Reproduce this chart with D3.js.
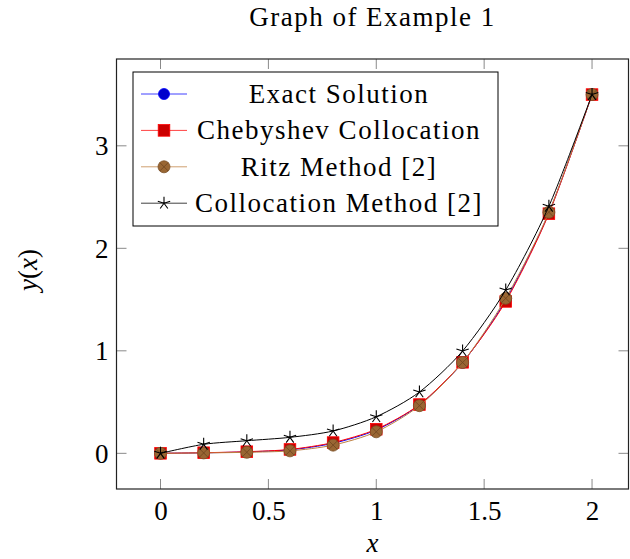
<!DOCTYPE html>
<html>
<head>
<meta charset="utf-8">
<script src="https://cdn.jsdelivr.net/npm/d3@7"></script>
<style>
  body { margin: 0; background: #fff; }
  text { font-family: "Liberation Serif", "Times New Roman", serif; fill: #000; }
</style>
</head>
<body>
<div id="chart-area"></div>
<script>
// data
const xs = [0, 0.2, 0.4, 0.6, 0.8, 1.0, 1.2, 1.4, 1.6, 1.8, 2.0]
const exact = [0, 0.005, 0.014, 0.034, 0.098, 0.228, 0.472, 0.885, 1.495, 2.345, 3.5]
const cheby = [0, 0.006, 0.016, 0.038, 0.105, 0.235, 0.476, 0.888, 1.482, 2.338, 3.5]
const ritz = [0, 0.004, 0.010, 0.024, 0.080, 0.210, 0.465, 0.886, 1.512, 2.352, 3.5]
const colloc = [0, 0.088, 0.123, 0.156, 0.218, 0.357, 0.598, 0.998, 1.593, 2.41, 3.5]
const seriesNames = ["Exact Solution", "Chebyshev Collocation", "Ritz Method [2]", "Collocation Method [2]"]
const xTicks = [0, 0.5, 1, 1.5, 2]
const yTicks = [0, 1, 2, 3]

const W = 630, H = 559
const PLOT = { LEFT: 116.5, RIGHT: 628.5, TOP: 59, BOTTOM: 489 }

const svg = d3.select("#chart-area").append("svg")
  .attr("width", W)
  .attr("height", H)

const x = d3.scaleLinear()
  .domain([-0.204, 2.169])
  .range([PLOT.LEFT, PLOT.RIGHT])

const y = d3.scaleLinear()
  .domain([-0.348, 3.847])
  .range([PLOT.BOTTOM, PLOT.TOP])

// title
svg.append("text")
  .attr("x", (PLOT.LEFT + PLOT.RIGHT) / 2)
  .attr("y", 26)
  .attr("text-anchor", "middle")
  .attr("font-size", "27px")
  .attr("letter-spacing", "1.5px")
  .text("Graph of Example 1")

// ticks (inner, mirrored on all sides)
const TICK = 10
const ticks = svg.append("g").attr("stroke", "#8a8a8a").attr("stroke-width", 1)
xTicks.forEach(t => {
  ticks.append("line").attr("x1", x(t)).attr("x2", x(t)).attr("y1", PLOT.BOTTOM).attr("y2", PLOT.BOTTOM - TICK)
  ticks.append("line").attr("x1", x(t)).attr("x2", x(t)).attr("y1", PLOT.TOP).attr("y2", PLOT.TOP + TICK)
})
yTicks.forEach(t => {
  ticks.append("line").attr("x1", PLOT.LEFT).attr("x2", PLOT.LEFT + TICK).attr("y1", y(t)).attr("y2", y(t))
  ticks.append("line").attr("x1", PLOT.RIGHT).attr("x2", PLOT.RIGHT - TICK).attr("y1", y(t)).attr("y2", y(t))
})

// tick labels through d3 axes (lines hidden, labels kept)
const xAxis = svg.append("g")
  .attr("transform", `translate(0, ${PLOT.BOTTOM})`)
  .call(d3.axisBottom(x).tickValues(xTicks).tickSize(0).tickPadding(0).tickFormat(d3.format("")))
xAxis.select(".domain").remove()
xAxis.selectAll("text")
  .attr("y", 31)
  .attr("dy", null)
  .attr("font-size", "27px")
  .attr("font-family", "Liberation Serif, serif")
  .attr("fill", "#000")

const yAxis = svg.append("g")
  .attr("transform", `translate(${PLOT.LEFT}, 0)`)
  .call(d3.axisLeft(y).tickValues(yTicks).tickSize(0).tickPadding(0).tickFormat(d3.format("")))
yAxis.select(".domain").remove()
yAxis.selectAll("text")
  .attr("x", -8)
  .attr("dy", "0.33em")
  .attr("font-size", "27px")
  .attr("font-family", "Liberation Serif, serif")
  .attr("fill", "#000")

// axis labels
svg.append("text")
  .attr("x", (PLOT.LEFT + PLOT.RIGHT) / 2)
  .attr("y", 552)
  .attr("text-anchor", "middle")
  .attr("font-size", "27px")
  .attr("font-style", "italic")
  .text("x")

const yl = svg.append("text")
  .attr("transform", "translate(37, 270) rotate(-90)")
  .attr("text-anchor", "middle")
  .attr("font-size", "27px")
yl.append("tspan").attr("font-style", "italic").text("y")
yl.append("tspan").text("(")
yl.append("tspan").attr("font-style", "italic").text("x")
yl.append("tspan").text(")")

// clip
svg.append("clipPath").attr("id", "clip")
  .append("rect")
  .attr("x", PLOT.LEFT).attr("y", PLOT.TOP)
  .attr("width", PLOT.RIGHT - PLOT.LEFT).attr("height", PLOT.BOTTOM - PLOT.TOP)

const plot = svg.append("g").attr("clip-path", "url(#clip)")

const series = [
  { name: seriesNames[0], values: exact, line: "#0000ff", fill: "#0000cc", mark: "circle" },
  { name: seriesNames[1], values: cheby, line: "#ff0000", fill: "#cc0000", mark: "square" },
  { name: seriesNames[2], values: ritz, line: "#bf8040", fill: "#996633", mark: "otimes" },
  { name: seriesNames[3], values: colloc, line: "#000000", fill: "#000000", mark: "star" }
]

const line = d3.line()
  .x(d => x(d[0]))
  .y(d => y(d[1]))
  .curve(d3.curveCardinal.tension(0.2))

function drawMark(g, type, s) {
  if (type === "circle") {
    g.append("circle").attr("r", 5.5).attr("fill", s.fill).attr("stroke", s.line).attr("stroke-width", 0.8)
  } else if (type === "square") {
    g.append("rect").attr("x", -5.8).attr("y", -5.8).attr("width", 11.6).attr("height", 11.6)
      .attr("fill", s.fill).attr("stroke", s.line).attr("stroke-width", 0.8)
  } else if (type === "otimes") {
    g.append("circle").attr("r", 6).attr("fill", s.fill).attr("stroke", "#7a4f26").attr("stroke-width", 0.8)
    const r = 6 * Math.SQRT1_2
    g.append("path").attr("d", `M${-r},${-r}L${r},${r}M${-r},${r}L${r},${-r}`)
      .attr("stroke", "#6e4520").attr("stroke-width", 0.8)
  } else {
    let d = ""
    for (let k = 0; k < 5; k++) {
      const a = -Math.PI / 2 + k * 2 * Math.PI / 5
      d += `M0,0L${6.5 * Math.cos(a)},${6.5 * Math.sin(a)}`
    }
    g.append("path").attr("d", d).attr("stroke", "#000").attr("stroke-width", 1.1).attr("fill", "none")
  }
}

series.forEach(s => {
  const pts = xs.map((v, i) => [v, s.values[i]])
  plot.append("path")
    .datum(pts)
    .attr("d", line)
    .attr("fill", "none")
    .attr("stroke", s.line)
    .attr("stroke-width", 1)
  pts.forEach(p => {
    const g = plot.append("g").attr("transform", `translate(${x(p[0])}, ${y(p[1])})`)
    drawMark(g, s.mark, s)
  })
})

// frame
svg.append("rect")
  .attr("x", PLOT.LEFT).attr("y", PLOT.TOP)
  .attr("width", PLOT.RIGHT - PLOT.LEFT).attr("height", PLOT.BOTTOM - PLOT.TOP)
  .attr("fill", "none")
  .attr("stroke", "#222")
  .attr("stroke-width", 1.2)

// legend
const LEG = { X: 133, Y: 72, W: 365, H: 154, ROW: 36.4, FIRST: 94 }
const legend = svg.append("g")
legend.append("rect")
  .attr("x", LEG.X).attr("y", LEG.Y)
  .attr("width", LEG.W).attr("height", LEG.H)
  .attr("fill", "#fff")
  .attr("stroke", "#000")
  .attr("stroke-width", 1)

series.forEach((s, i) => {
  const cy = LEG.FIRST + i * LEG.ROW
  legend.append("line")
    .attr("x1", 141).attr("x2", 187)
    .attr("y1", cy).attr("y2", cy)
    .attr("stroke", s.line).attr("stroke-width", 1).attr("stroke-opacity", 0.75)
  drawMark(legend.append("g").attr("transform", `translate(164, ${cy})`), s.mark, s)
  legend.append("text")
    .attr("x", 339)
    .attr("y", cy + 9)
    .attr("text-anchor", "middle")
    .attr("font-size", "27px")
    .attr("letter-spacing", "1.5px")
    .text(s.name)
})
</script>
</body>
</html>
